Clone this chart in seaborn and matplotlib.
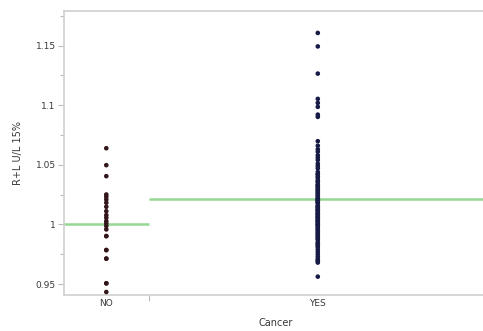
import numpy as np
import pandas as pd
import matplotlib
matplotlib.use("Agg")
import matplotlib.pyplot as plt
import seaborn as sns
from matplotlib.ticker import MultipleLocator

categories = ["NO", "YES"]
no_values = [1.0639, 1.0497, 1.0405, 1.0251, 1.0232, 1.0209, 1.0182, 1.0148,
             1.0111, 1.0078, 1.0056, 1.0028, 1.0008, 0.9986, 0.9958, 0.9902,
             0.9785, 0.9713, 0.9506, 0.9433, 0.9506, 0.9713, 0.9785, 0.9902]
yes_values = [1.1606, 1.1493, 1.1265, 1.1053, 1.1019, 1.0986, 1.0921, 1.0902,
              1.0698, 0.9562,
              1.066, 1.063, 1.061, 1.058, 1.056, 1.054, 1.051, 1.049, 1.047, 1.044,
              1.042, 1.040, 1.037, 1.035, 1.033, 1.031, 1.029, 1.027, 1.025, 1.023,
              1.021, 1.020, 1.018, 1.016, 1.015, 1.013, 1.012, 1.010, 1.009, 1.007,
              1.006, 1.004, 1.003, 1.001, 1.000, 0.999, 0.998, 0.996, 0.995, 0.994,
              0.993, 0.991, 0.990, 0.989, 0.988, 0.987, 0.985, 0.984, 0.983, 0.982,
              0.981, 0.979, 0.977, 0.975, 0.973, 1.026, 1.019, 1.014, 1.022, 1.032,
              0.971, 0.970, 0.969, 0.968, 1.002, 1.008, 0.997, 1.011, 0.992, 1.005,
              1.021, 1.018, 1.024, 1.015, 1.028, 1.012, 1.030, 1.009, 1.033, 1.006,
              1.036, 1.003, 1.039, 1.000, 1.042, 1.020]
y_label = "R+L U/L 15%"
x_label = "Cancer"

groups = {"NO": no_values, "YES": yes_values}
counts = [len(groups[c]) for c in categories]
edges = np.concatenate([[0], np.cumsum(counts)])
centers = (edges[:-1] + edges[1:]) / 2

rows = []
for c, cx in zip(categories, centers):
    for v in groups[c]:
        rows.append({"Cancer": c, "x": cx, "value": v})
df = pd.DataFrame(rows)

sns.set_style("white")
plt.rcParams['font.family'] = ['DejaVu Sans']

fig = plt.figure(figsize=(4.83, 3.31), dpi=100)
ax = fig.add_axes([64 / 483, 1 - 295 / 331, (487 - 64) / 483, (295 - 11) / 331])

palette = {"NO": "#33161a", "YES": "#161b46"}
sns.scatterplot(data=df, x="x", y="value", hue="Cancer", palette=palette,
                s=11, linewidth=0, legend=False, ax=ax, zorder=3)

for i, c in enumerate(categories):
    m = np.mean(groups[c])
    ax.hlines(m, edges[i], edges[i + 1], color="#94d894", linewidth=1.8, zorder=2)

ax.set_xlim(edges[0], edges[-1])
ax.set_ylim(0.9408, 1.179)

ax.yaxis.set_major_locator(MultipleLocator(0.05))
ax.yaxis.set_minor_locator(MultipleLocator(0.025))
ax.set_yticks([0.95, 1.0, 1.05, 1.1, 1.15])
ax.set_yticklabels(["0.95", "1", "1.05", "1.1", "1.15"])
ax.tick_params(axis="y", which="major", length=4, width=0.8, color="#bbbbbb",
               labelsize=6.5, labelcolor="#383838", left=True, pad=2)
ax.tick_params(axis="y", which="minor", length=3, width=0.8, color="#bbbbbb", left=True)

ax.set_xticks(centers)
ax.set_xticklabels(categories)
ax.set_xticks(edges[1:-1], minor=True)
ax.tick_params(axis="x", which="major", length=0, labelsize=6.5, labelcolor="#383838", pad=3)
ax.tick_params(axis="x", which="minor", length=4, width=0.8, color="#bbbbbb", bottom=True)

for s in ["left", "bottom", "top"]:
    ax.spines[s].set_color("#cfcfcf")
    ax.spines[s].set_linewidth(1.2)
ax.spines["right"].set_visible(False)

ax.set_xlabel(x_label, fontsize=7, color="#383838", labelpad=7)
ax.set_ylabel(y_label, fontsize=7, color="#383838", labelpad=9)

fig.savefig("out.png", dpi=100)
